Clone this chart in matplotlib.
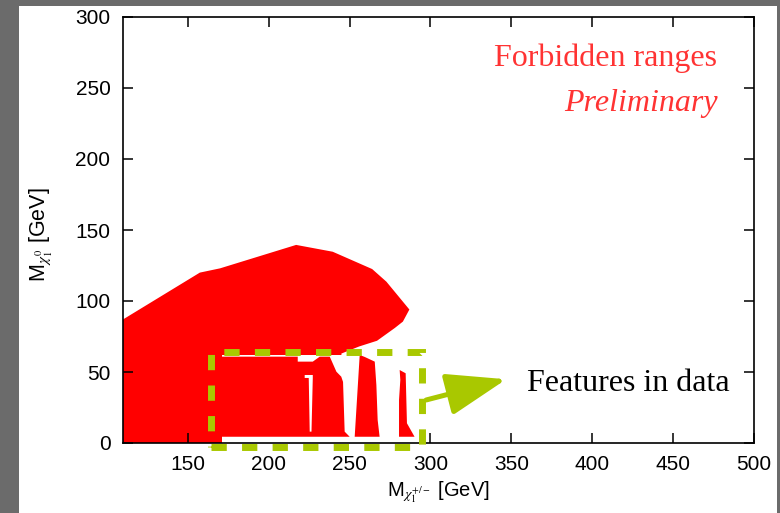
import matplotlib
matplotlib.use('Agg')
import matplotlib.pyplot as plt
from matplotlib.patches import Polygon, Rectangle

plt.rcParams['font.family'] = ['Liberation Sans', 'DejaVu Sans']
plt.rcParams['mathtext.fontset'] = 'stix'

# outer forbidden region (boundary, GeV)
big_x = [110, 110, 157.5, 170, 217, 239.6, 249, 264, 272.8, 287, 283, 278, 267, 256, 245, 245]
big_y = [0, 87, 120, 123, 139.5, 134.7, 130, 122.5, 113.6, 94, 85.5, 81, 72, 68, 63, 0]

# inset: features in data
inset_x = [171, 293]
inset_y = [0, 62]

feat1_x = [170.9, 170.9, 218, 218, 227.3, 231.6, 237.8, 241.9, 244.9, 246, 247, 250.1]
feat1_y = [4.4, 60.8, 60.8, 57.3, 57.3, 60.8, 60.8, 50.2, 46.7, 43, 8, 4.4]

gap_x = [222.3, 227.3, 227.3, 226.5, 225.4, 224.8, 222.3]
gap_y = [47.9, 47.9, 45.8, 8, 8, 45.8, 45.8]

feat2_x = [253.2, 256.3, 259.4, 265.6, 266.6, 267.4, 268.6]
feat2_y = [4.4, 62, 60.6, 57.3, 40.8, 16.2, 4.4]

feat3_x = [280.6, 280.6, 281.4, 281, 284.7, 285.5, 290.2]
feat3_y = [4.4, 30.3, 44.4, 51.4, 49.1, 13.9, 4.4]

box_x = [164.3, 294.6]
box_y = [-2.8, 64]
arrow_tail = (297.4, 30.3)
arrow_tip = (346.9, 44.9)

red = '#ff0000'
green = '#a9c800'
txt_red = '#ff3333'

fig = plt.figure(figsize=(7.8, 5.13), dpi=100)
fig.patch.set_facecolor('#6b6b6b')
fig.patches.append(Rectangle((19 / 780, 0), 758 / 780, 507 / 513, transform=fig.transFigure,
                             facecolor='white', edgecolor='none', zorder=-10))

ax = fig.add_axes([123 / 780, 70 / 513, 631 / 780, 426 / 513])
ax.set_zorder(5)
ax.set_xlim(110, 500)
ax.set_ylim(0, 300)

ax.add_patch(Polygon(list(zip(big_x, big_y)), closed=True, facecolor=red, edgecolor='none', zorder=1))
ax.add_patch(Rectangle((inset_x[0], inset_y[0]), inset_x[1] - inset_x[0], inset_y[1] - inset_y[0],
                       facecolor='white', edgecolor='none', zorder=2))
for fx, fy in [(feat1_x, feat1_y), (feat2_x, feat2_y), (feat3_x, feat3_y)]:
    ax.add_patch(Polygon(list(zip(fx, fy)), closed=True, facecolor=red, edgecolor='none', zorder=3))
ax.add_patch(Polygon(list(zip(gap_x, gap_y)), closed=True, facecolor='white', edgecolor='none', zorder=4))

ax.add_patch(Rectangle((box_x[0], box_y[0]), box_x[1] - box_x[0], box_y[1] - box_y[0],
                       facecolor='none', edgecolor=green, lw=5, linestyle=(0, (2.2, 2.2)),
                       capstyle='butt', clip_on=False, zorder=5))
ax.annotate('', xy=arrow_tip, xytext=arrow_tail,
            arrowprops=dict(arrowstyle='-|>,head_length=37,head_width=13', mutation_scale=1,
                            lw=3.6, color=green, shrinkA=0, shrinkB=0), zorder=5)

ax.text(360, 36.5, 'Features in data', fontsize=23, family='Liberation Serif', color='black',
        ha='left', va='baseline')
ax.text(0.942, 0.884, 'Forbidden ranges', transform=ax.transAxes, fontsize=23,
        family='Liberation Serif', color=txt_red, ha='right', va='baseline')
ax.text(0.942, 0.78, 'Preliminary', transform=ax.transAxes, fontsize=23, style='italic',
        family='Liberation Serif', color=txt_red, ha='right', va='baseline')

ax.set_xticks(range(150, 501, 50))
ax.set_yticks(range(0, 301, 50))
ax.tick_params(direction='in', length=7, width=1.1, labelsize=15, top=True, right=True, pad=9)
for s in ax.spines.values():
    s.set_linewidth(1.2)

ax.set_xlabel(r'M$_{\chi_1^{+/-}}$ [GeV]', fontsize=14.5)
ax.set_ylabel(r'M$_{\chi_1^0}$ [GeV]', fontsize=15.5)
ax.xaxis.set_label_coords(0.5, -0.085)
ax.yaxis.set_label_coords(-0.108, 0.49)

fig.savefig('out.png', dpi=100, facecolor=fig.get_facecolor())
